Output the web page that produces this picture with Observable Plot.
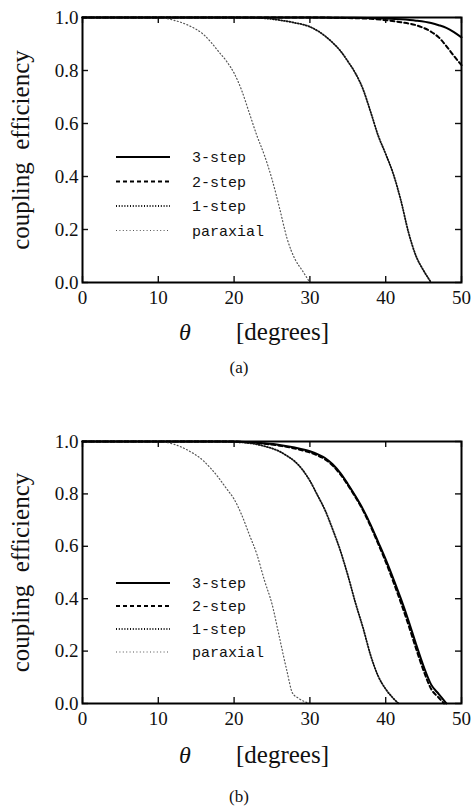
<!DOCTYPE html>
<html>
<head>
<meta charset="utf-8">
<script src="https://cdn.jsdelivr.net/npm/d3@7"></script>
<script src="https://cdn.jsdelivr.net/npm/@observablehq/plot@0.6"></script>
<style>
  html, body { margin: 0; padding: 0; background: #fff; }
  #wrap { position: relative; width: 471px; height: 809px; overflow: hidden; }
  .panel { position: absolute; left: 0; }
  .legend { position: absolute; left: 0; pointer-events: none; }
</style>
</head>
<body>
<div id="wrap">
  <div id="pa" class="panel" style="top:0px"></div>
  <div id="pb" class="panel" style="top:400px"></div>
</div>
<script>
// ---------- data ----------
const seriesNames = ["3-step", "2-step", "1-step", "paraxial"];
const xTicks = [0, 10, 20, 30, 40, 50];
const yTicks = [0, 0.2, 0.4, 0.6, 0.8, 1.0];
const panelLabels = ["(a)", "(b)"];
const yAxisLabel = "coupling\u00a0 efficiency";
const xAxisSymbol = "θ";
const xAxisUnit = "[degrees]";

// Panel (a)
const a3Theta = [0, 10, 20, 30, 35, 38, 40, 42, 44, 46, 47, 48, 49, 50];
const a3Eff   = [1, 1, 1, 1, 0.999, 0.998, 0.996, 0.993, 0.988, 0.979, 0.971, 0.961, 0.945, 0.925];
const a2Theta = [0, 10, 20, 30, 35, 38, 40, 42, 44, 46, 47, 48, 49, 50];
const a2Eff   = [1, 1, 1, 1, 0.998, 0.995, 0.99, 0.982, 0.971, 0.946, 0.925, 0.892, 0.855, 0.82];
const a1Theta = [0, 10, 20, 24, 26, 28, 30, 31, 32, 33, 34, 35, 36, 37, 38, 39, 40, 41, 42, 43, 44, 45, 46];
const a1Eff   = [1, 1, 1, 0.997, 0.99, 0.98, 0.965, 0.95, 0.93, 0.905, 0.875, 0.835, 0.79, 0.73, 0.645, 0.555, 0.485, 0.41, 0.31, 0.19, 0.1, 0.045, 0.0];
const apTheta = [0, 10, 12, 14, 16, 17, 18, 19, 20, 21, 22, 23, 24, 25, 26, 27, 28, 29, 30];
const apEff   = [1, 1, 0.99, 0.97, 0.935, 0.905, 0.87, 0.835, 0.79, 0.725, 0.64, 0.555, 0.48, 0.39, 0.28, 0.165, 0.09, 0.045, 0.0];

// Panel (b)
const b3Theta = [0, 10, 20, 22, 24, 26, 28, 30, 31, 32, 33, 34, 35, 36, 37, 38, 39, 40, 41, 42, 43, 44, 45, 46, 47, 48];
const b3Eff   = [1, 1, 1, 0.997, 0.993, 0.987, 0.977, 0.963, 0.952, 0.937, 0.913, 0.88, 0.838, 0.792, 0.742, 0.683, 0.617, 0.55, 0.477, 0.4, 0.317, 0.227, 0.142, 0.072, 0.036, 0.0];
const b2Theta = [0, 10, 20, 22, 24, 26, 28, 30, 31, 32, 33, 34, 35, 36, 37, 38, 39, 40, 41, 42, 43, 44, 45, 46, 47, 47.7];
const b2Eff   = [1, 1, 1, 0.996, 0.991, 0.984, 0.973, 0.958, 0.947, 0.932, 0.908, 0.875, 0.834, 0.788, 0.737, 0.677, 0.61, 0.541, 0.465, 0.385, 0.3, 0.21, 0.125, 0.055, 0.022, 0.0];
const b1Theta = [0, 10, 18, 20, 22, 24, 26, 27, 28, 29, 30, 31, 32, 33, 34, 35, 36, 37, 38, 39, 40, 41, 41.7];
const b1Eff   = [1, 1, 1, 0.998, 0.994, 0.982, 0.962, 0.945, 0.924, 0.893, 0.85, 0.795, 0.738, 0.665, 0.585, 0.49, 0.385, 0.29, 0.185, 0.105, 0.055, 0.02, 0.0];
const bpTheta = [0, 10, 12, 14, 16, 17, 18, 19, 20, 21, 22, 23, 24, 25, 26, 27, 27.7, 28.5, 30];
const bpEff   = [1, 1, 0.99, 0.965, 0.925, 0.895, 0.86, 0.82, 0.78, 0.72, 0.645, 0.57, 0.47, 0.38, 0.25, 0.12, 0.04, 0.02, 0.0];

// ---------- styles ----------
const lineStyles = {
  "3-step":   {stroke: "#000", strokeWidth: 2, strokeDasharray: null},
  "2-step":   {stroke: "#000", strokeWidth: 2, strokeDasharray: "4,3"},
  "1-step":   {stroke: "#111", strokeWidth: 1.8, strokeDasharray: "1,1.8"},
  "paraxial": {stroke: "#555", strokeWidth: 1.2, strokeDasharray: "1,2.4"}
};

function toRows(thetas, effs, name) {
  return thetas.map((t, i) => ({theta: t, eff: effs[i], series: name}));
}

const panels = [
  {
    el: "#pa", height: 400, mt: 17, mb: 118, capDy: 90, labDy: 57, legendTop: 157, legendStep: 24.5,
    data: [toRows(a3Theta, a3Eff, "3-step"), toRows(a2Theta, a2Eff, "2-step"),
           toRows(a1Theta, a1Eff, "1-step"), toRows(apTheta, apEff, "paraxial")],
    label: panelLabels[0]
  },
  {
    el: "#pb", height: 409, mt: 41, mb: 106, capDy: 98, labDy: 59, legendTop: 183, legendStep: 23,
    data: [toRows(b3Theta, b3Eff, "3-step"), toRows(b2Theta, b2Eff, "2-step"),
           toRows(b1Theta, b1Eff, "1-step"), toRows(bpTheta, bpEff, "paraxial")],
    label: panelLabels[1]
  }
];

const W = 471, ML = 82, MR = 10, tickLen = 6;
const plotW = W - ML - MR;
const serif = "'Liberation Serif', 'DejaVu Serif', serif";
const mono = "'Liberation Mono', 'DejaVu Sans Mono', monospace";

panels.forEach(p => {
  const plotH = p.height - p.mt - p.mb;
  const marks = [
    // inward ticks on all four sides
    Plot.tickX(xTicks, {x: d => d, insetTop: plotH - tickLen, stroke: "#111", strokeWidth: 1.4}),
    Plot.tickX(xTicks, {x: d => d, insetBottom: plotH - tickLen, stroke: "#111", strokeWidth: 1.4}),
    Plot.tickY(yTicks, {y: d => d, insetRight: plotW - tickLen, stroke: "#111", strokeWidth: 1.4}),
    Plot.tickY(yTicks, {y: d => d, insetLeft: plotW - tickLen, stroke: "#111", strokeWidth: 1.4}),
    Plot.axisX({ticks: xTicks, tickSize: 0, tickPadding: 8, label: null, fontSize: 19, fill: "#111"}),
    Plot.axisY({ticks: yTicks, tickSize: 0, tickPadding: 4, label: null, fontSize: 19, fill: "#111",
                tickFormat: d => d.toFixed(1)}),
  ];
  p.data.forEach(rows => {
    const st = lineStyles[rows[0].series];
    marks.push(Plot.line(rows, {x: "theta", y: "eff", curve: "monotone-x",
      stroke: st.stroke, strokeWidth: st.strokeWidth, strokeDasharray: st.strokeDasharray}));
  });
  marks.push(Plot.frame({stroke: "#000", strokeWidth: 2}));
  marks.push(Plot.text([yAxisLabel], {frameAnchor: "left", textAnchor: "middle", rotate: -90, dx: -62,
    fontSize: 25, fill: "#111", text: d => d}));
  marks.push(Plot.text([xAxisSymbol], {frameAnchor: "bottom", dx: -87, dy: p.labDy, fontSize: 24,
    fontStyle: "italic", fill: "#111", text: d => d}));
  marks.push(Plot.text([xAxisUnit], {frameAnchor: "bottom", dx: 10.5, dy: p.labDy, fontSize: 25,
    fill: "#111", text: d => d}));
  marks.push(Plot.text([p.label], {frameAnchor: "bottom", dx: -33, dy: p.capDy, fontSize: 17,
    fill: "#111", text: d => d}));

  const svg = Plot.plot({
    width: W, height: p.height,
    marginLeft: ML, marginRight: MR, marginTop: p.mt, marginBottom: p.mb,
    x: {domain: [0, 50]},
    y: {domain: [0, 1]},
    style: {background: "#fff", overflow: "visible"},
    marks
  });
  // force the serif face on every text of the chart
  svg.style.fontFamily = serif;
  svg.querySelectorAll("text").forEach(t => { t.style.fontFamily = serif; });
  const host = document.querySelector(p.el);
  host.appendChild(svg);

  // legend (overlay)
  const leg = d3.select(host).append("svg").attr("class", "legend")
    .attr("width", W).attr("height", p.height).style("top", "0px");
  seriesNames.forEach((name, i) => {
    const st = lineStyles[name];
    const y = p.legendTop + i * p.legendStep;
    leg.append("line").attr("x1", 116).attr("x2", 170).attr("y1", y).attr("y2", y)
      .attr("stroke", st.stroke).attr("stroke-width", st.strokeWidth)
      .attr("stroke-dasharray", st.strokeDasharray);
    leg.append("text").attr("x", 192).attr("y", y).attr("dy", "0.35em")
      .style("font-family", mono)
      .attr("font-size", 15).attr("fill", "#111").text(name);
  });
});
</script>
</body>
</html>
